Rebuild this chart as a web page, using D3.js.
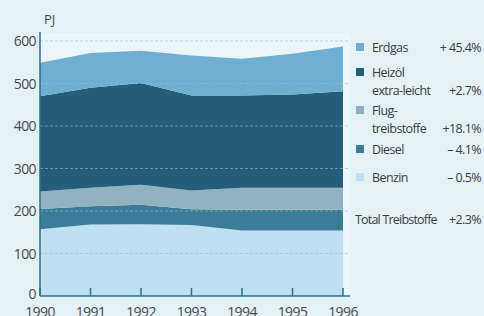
<!DOCTYPE html>
<html lang="de">
<head>
  <meta charset="UTF-8">
  <title>Energieverbrauch PJ</title>
  <script src="https://cdnjs.cloudflare.com/ajax/libs/d3/7.8.5/d3.min.js"></script>
  <style>
    body { margin: 0; background: #e4f2f8; }
    svg { display: block; }
  </style>
</head>
<body>
  <svg width="484" height="316"></svg>
  <script>
    // data (PJ)
    const years = [1990, 1991, 1992, 1993, 1994, 1995, 1996];
    const benzin = [157, 168, 169, 167, 154, 154, 154];
    const diesel = [48, 43, 46, 37, 49, 49, 49];
    const flug = [41, 44, 47, 44, 52, 52, 52];
    const heizoel = [224, 235, 239, 224, 217, 219, 227];
    const erdgas = [79, 82, 76, 94, 86, 96, 105];
    const yTicks = [0, 100, 200, 300, 400, 500, 600];

    const keys = ["benzin", "diesel", "flug", "heizoel", "erdgas"];
    const colors = {
      benzin: "#bfe0f1",
      diesel: "#3b7d97",
      flug: "#92b2c2",
      heizoel: "#265d79",
      erdgas: "#6fafd1"
    };
    const legend = [
      { key: "erdgas", lines: ["Erdgas"], pct: "+ 45.4%" },
      { key: "heizoel", lines: ["Heizöl", "extra-leicht"], pct: "+2.7%" },
      { key: "flug", lines: ["Flug-", "treibstoffe"], pct: "+18.1%" },
      { key: "diesel", lines: ["Diesel"], pct: "– 4.1%" },
      { key: "benzin", lines: ["Benzin"], pct: "– 0.5%" }
    ];

    const table = years.map((y, i) => ({
      year: y, benzin: benzin[i], diesel: diesel[i], flug: flug[i],
      heizoel: heizoel[i], erdgas: erdgas[i]
    }));

    const svg = d3.select("svg");
    const font = "'Open Sans', sans-serif";

    const x = d3.scaleLinear().domain([1990, 1996]).range([40, 343]);
    const y = d3.scaleLinear().domain([0, 600]).range([296, 41]);

    // lighter plot panel
    svg.append("rect")
      .attr("x", 40).attr("y", 33)
      .attr("width", 310).attr("height", 263)
      .attr("fill", "#ebf6fb");

    const series = d3.stack().keys(keys)(table);
    const area = d3.area()
      .x(d => x(d.data.year))
      .y0(d => y(d[0]))
      .y1(d => y(d[1]));

    svg.append("g")
      .selectAll("path")
      .data(series)
      .join("path")
      .attr("d", area)
      .attr("fill", d => colors[d.key]);

    // grid lines on top of the areas
    svg.append("g")
      .selectAll("line")
      .data(yTicks.slice(1))
      .join("line")
      .attr("x1", 40).attr("x2", 349)
      .attr("y1", d => y(d)).attr("y2", d => y(d))
      .attr("stroke", "#8fc0d8")
      .attr("stroke-opacity", 0.6)
      .attr("stroke-dasharray", "3,2");

    // y axis
    svg.append("line")
      .attr("x1", 40).attr("x2", 40)
      .attr("y1", 32).attr("y2", 296)
      .attr("stroke", "#2e6f8f").attr("stroke-width", 1.5);

    svg.append("g")
      .selectAll("text")
      .data(yTicks)
      .join("text")
      .attr("x", 36)
      .attr("y", d => y(d) + (d === 0 ? 3 : 5))
      .attr("text-anchor", "end")
      .attr("font-family", font)
      .attr("font-size", 14)
      .attr("letter-spacing", -0.6)
      .attr("fill", "#4a4a4a")
      .text(d => d);

    svg.append("text")
      .attr("x", 44).attr("y", 24)
      .attr("font-family", font)
      .attr("font-size", 13)
      .attr("fill", "#4a4a4a")
      .text("PJ");

    // x axis
    svg.append("line")
      .attr("x1", 40).attr("x2", 350)
      .attr("y1", 296).attr("y2", 296)
      .attr("stroke", "#2e6f8f").attr("stroke-width", 1.5);

    svg.append("g")
      .selectAll("line")
      .data(years)
      .join("line")
      .attr("x1", d => x(d)).attr("x2", d => x(d))
      .attr("y1", 288).attr("y2", 296)
      .attr("stroke", "#2e6f8f").attr("stroke-width", 1.5);

    svg.append("g")
      .selectAll("text")
      .data(years)
      .join("text")
      .attr("x", d => x(d))
      .attr("y", 317)
      .attr("text-anchor", "middle")
      .attr("font-family", font)
      .attr("font-size", 14)
      .attr("letter-spacing", -0.6)
      .attr("fill", "#4a4a4a")
      .text(d => d);

    // legend
    const legTops = [43, 68, 106, 145, 173];
    const lg = svg.append("g")
      .attr("font-family", font)
      .attr("font-size", 12.5)
      .attr("letter-spacing", -0.6)
      .attr("fill", "#3d3d3d");

    legend.forEach((d, i) => {
      const top = legTops[i];
      lg.append("rect")
        .attr("x", 356).attr("y", top)
        .attr("width", 8).attr("height", 8)
        .attr("fill", colors[d.key]);
      d.lines.forEach((t, j) => {
        lg.append("text")
          .attr("x", 372).attr("y", top + 9 + j * 18)
          .text(t);
      });
      lg.append("text")
        .attr("x", 481).attr("y", top + 9 + (d.lines.length - 1) * 18)
        .attr("text-anchor", "end")
        .text(d.pct);
    });

    lg.append("text").attr("x", 355).attr("y", 224)
      .attr("letter-spacing", -0.8).text("Total Treibstoffe");
    lg.append("text").attr("x", 481).attr("y", 224)
      .attr("text-anchor", "end").text("+2.3%");
  </script>
</body>
</html>
